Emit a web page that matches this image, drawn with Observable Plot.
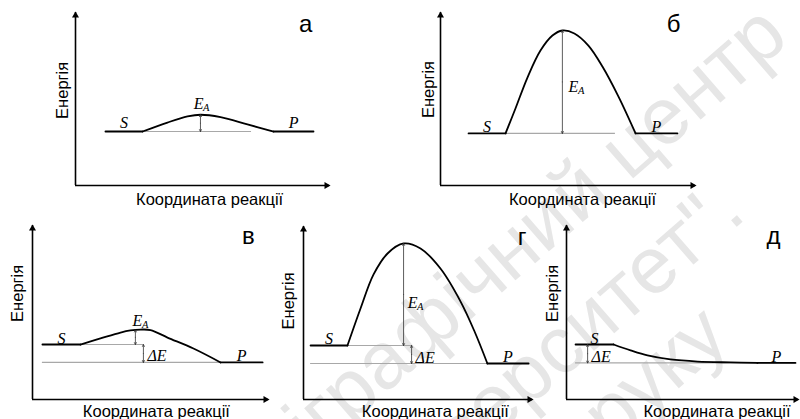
<!DOCTYPE html>
<html><head><meta charset="utf-8">
<script src="https://cdn.jsdelivr.net/npm/d3@7"></script>
<script src="https://cdn.jsdelivr.net/npm/@observablehq/plot@0.6"></script>
<style>
body{margin:0;background:#fff;overflow:hidden}
#wrap{position:relative;width:800px;height:419px;overflow:hidden;background:#fff}
</style></head><body><div id="wrap"></div>
<script>
// ---------------- data (arbitrary units: 0–100 = length of each axis) ----------------
const panelLetters = ["а", "б", "в", "г", "д"];
const yTitle = "Енергія";
const xTitle = "Координата реакції";
const watermarkLines = ["Видавничо-поліграфічний центр", "\"Київський університет\".", "Підписано до друку"];

// energy levels of substrate (S) and product (P)
const energyS = [31.2, 30.1, 31.6, 31.2, 31.6];
const energyP = [31.2, 30.1, 21.3, 20.8, 21.0];
// extent of the flat S and P segments along the reaction coordinate
const flatS = [[11.8, 26.4], [11.0, 25.5], [4.2, 20.3], [3.1, 19.2], [3.9, 20.3]];
const flatP = [[78.0, 93.7], [76.5, 92.9], [79.7, 97.5], [80.3, 98.3], [82.3, 98.7]];
// transition region [reaction coordinate, energy]
const humpA = [[26.4,31.2],[36.2,36.4],[44.1,39.9],[49.2,40.9],[57.1,39.5],[67.7,35.3],[78.0,31.2]];
const humpB = [[25.5,30.1],[29.4,44.5],[34.1,62.4],[39.2,78.0],[43.9,86.7],[47.8,89.6],[52.5,87.9],[58.0,80.9],[63.5,68.8],[69.8,51.4],[76.5,30.1]];
const humpV = [[20.3,31.6],[28.8,35.1],[37.3,38.5],[41.5,39.7],[45.8,40.2],[50.0,39.9],[57.2,35.6],[68.2,29.3],[79.7,21.3]];
const humpG = [[19.2,31.2],[24.9,52.6],[30.6,72.3],[36.7,84.4],[43.7,90.2],[51.1,87.3],[59.8,75.7],[68.6,56.6],[74.7,39.3],[80.3,20.8]];
const humpD = [[20.3,31.6],[27.6,28.2],[34.9,25.3],[44.8,23.0],[56.5,21.8],[70.7,21.3],[82.3,21.0]];
const humps = [humpA, humpB, humpV, humpG, humpD];
// thin grey reference levels [x1, x2, energy]
const greyLevels = [
  [[26.4, 69.3, 31.2]],
  [[25.5, 68.6, 30.1]],
  [[20.3, 47.0, 31.6], [4.2, 79.7, 21.3]],
  [[19.2, 47.6, 31.2], [3.1, 80.3, 20.8]],
  [[3.9, 98.7, 21.0]]
];
// activation energy arrows [x, from, to]  (null = none)
const arrowEA = [[49.2, 31.2, 40.9], [47.8, 30.1, 89.6], [43.6, 31.6, 39.9], [43.7, 31.2, 90.2], null];
// reaction energy arrows [x, from, to]
const arrowDE = [null, null, [47.0, 21.3, 31.6], [47.2, 20.8, 31.2], [9.1, 21.0, 31.6]];

// ---------------- layout ----------------
const layout = [
  {ox: 75,  oy: 185,   W: 254, H: 173, ylab: 55,   ydx: -8,  xlab: 52.8, xdy: 19,   lx: 90.6, ly: 88.7, ea: "above", eaDx: 3,  eaDy: -6, sDy: -4},
  {ox: 440, oy: 185,   W: 255, H: 173, ylab: 55.5, ydx: -7,  xlab: 55.7, xdy: 19,   lx: 91.4, ly: 88.7, ea: "side",  eaDx: 16, eaDy: 10, sDy: -1},
  {ox: 32,  oy: 399,   W: 236, H: 174, ylab: 61,   ydx: -10, xlab: 52.5, xdy: 17.5, lx: 91.5, ly: 89.5, ea: "above", eaDx: 7,  eaDy: -4, sDy: -1},
  {ox: 303, oy: 398.5, W: 229, H: 173, ylab: 57,   ydx: -10, xlab: 57.6, xdy: 17.5, lx: 95.5, ly: 89.4, ea: "side",  eaDx: 14, eaDy: 14, sDy: -2},
  {ox: 566, oy: 398.5, W: 232, H: 174, ylab: 61,   ydx: -9,  xlab: 64.9, xdy: 17.5, lx: 89.2, ly: 89.5, ea: "above", eaDx: 3,  eaDy: -4, sDy: -1}
];
const sans = "Liberation Sans, Arial, sans-serif";
const serif = "Liberation Serif, Times New Roman, serif";
const wrap = document.getElementById("wrap");

// watermark (behind the panels)
const wmPos = [[791, 41], [748, 217], [732, 342]];
const wm = d3.create("svg").attr("width", 800).attr("height", 419)
  .style("position", "absolute").style("left", "0px").style("top", "0px");
watermarkLines.forEach((t, i) => {
  wm.append("text").attr("transform", `translate(${wmPos[i][0]},${wmPos[i][1]}) rotate(-41)`)
    .attr("text-anchor", "end").attr("font-family", sans).attr("font-size", 80)
    .attr("fill", "#e6e6e6").text(t);
});
wrap.append(wm.node());

layout.forEach((L, i) => {
  const ml = 34, mr = 8, mt = 8, mb = 26;
  const pts = [
    ...flatS[i].map(x => ({x, y: energyS[i], seg: "S"})),
    ...humps[i].map(([x, y]) => ({x, y, seg: "T"})),
    ...flatP[i].map(x => ({x, y: energyP[i], seg: "P"}))
  ];
  const greys = greyLevels[i].map(([x1, x2, y]) => ({x1, x2, y}));
  const dbl = [arrowEA[i], arrowDE[i]].filter(d => d).map(([x, a, b]) => ({x, a, b, m: (a + b) / 2}));
  const marks = [
    Plot.ruleY(greys, {x1: "x1", x2: "x2", y: "y", stroke: "#a8a8a8", strokeWidth: 1.2}),
    Plot.ruleY([0], {stroke: "black", strokeWidth: 1.6}),
    Plot.ruleX([0], {stroke: "black", strokeWidth: 1.6}),
    Plot.dot([{x: 100, y: 0}], {x: "x", y: "y", symbol: "triangle", rotate: 90, r: 2.6, fill: "black", dx: -3}),
    Plot.dot([{x: 0, y: 100}], {x: "x", y: "y", symbol: "triangle", rotate: 0, r: 2.6, fill: "black", dy: 3}),
    Plot.line(pts, {x: "x", y: "y", z: "seg", curve: "catmull-rom", stroke: "black", strokeWidth: 1.8}),
    Plot.arrow(dbl, {x1: "x", x2: "x", y1: "m", y2: "b", headLength: 4, headAngle: 55, stroke: "#333", strokeWidth: 0.8}),
    Plot.arrow(dbl, {x1: "x", x2: "x", y1: "m", y2: "a", headLength: 4, headAngle: 55, stroke: "#333", strokeWidth: 0.8}),
    // S and P labels
    Plot.text([{x: d3.mean(flatS[i]), y: energyS[i], t: "S"}], {x: "x", y: "y", text: "t", lineAnchor: "bottom", dy: L.sDy, fontFamily: serif, fontStyle: "italic", fontSize: 16, fill: "black"}),
    Plot.text([{x: d3.mean(flatP[i]), y: energyP[i], t: "P"}], {x: "x", y: "y", text: "t", lineAnchor: "bottom", dy: L.sDy, fontFamily: serif, fontStyle: "italic", fontSize: 16, fill: "black"}),
    // axis titles
    Plot.text([{x: 0, y: L.ylab, t: yTitle}], {x: "x", y: "y", text: "t", rotate: -90, lineAnchor: "bottom", dx: L.ydx, fontFamily: sans, fontSize: 16.5, fill: "black"}),
    Plot.text([{x: L.xlab, y: 0, t: xTitle}], {x: "x", y: "y", text: "t", lineAnchor: "bottom", dy: L.xdy, fontFamily: sans, fontSize: 16.5, fill: "black"}),
    // panel letter
    Plot.text([{x: L.lx, y: L.ly, t: panelLetters[i]}], {x: "x", y: "y", text: "t", lineAnchor: "bottom", fontFamily: sans, fontSize: 24, fill: "black"})
  ];
  const ea = arrowEA[i];
  if (ea) {
    const ey = L.ea === "above" ? ea[2] : (ea[1] + ea[2]) / 2;
    marks.push(
      Plot.text([{x: ea[0], y: ey, t: "E"}], {x: "x", y: "y", text: "t", textAnchor: "end", lineAnchor: "bottom", dx: L.eaDx, dy: L.eaDy, fontFamily: serif, fontStyle: "italic", fontSize: 16, fill: "black"}),
      Plot.text([{x: ea[0], y: ey, t: "A"}], {x: "x", y: "y", text: "t", textAnchor: "start", lineAnchor: "bottom", dx: L.eaDx - 0.5, dy: L.eaDy + 2, fontFamily: serif, fontStyle: "italic", fontSize: 10.5, fill: "black"})
    );
  }
  const de = arrowDE[i];
  if (de) {
    marks.push(Plot.text([{x: de[0], y: de[1], t: "ΔE"}], {x: "x", y: "y", text: "t", textAnchor: "start", lineAnchor: "bottom", dx: 4, dy: -1, fontFamily: serif, fontStyle: "italic", fontSize: 16, fill: "black"}));
  }
  const p = Plot.plot({
    width: ml + L.W + mr, height: mt + L.H + mb,
    marginLeft: ml, marginRight: mr, marginTop: mt, marginBottom: mb,
    x: {domain: [0, 100], axis: null},
    y: {domain: [0, 100], axis: null},
    marks
  });
  p.style.position = "absolute";
  p.style.left = (L.ox - ml) + "px";
  p.style.top = (L.oy - L.H - mt) + "px";
  p.style.background = "transparent";
  p.style.overflow = "visible";
  p.style.maxWidth = "none";
  wrap.append(p);
});
</script></body></html>
